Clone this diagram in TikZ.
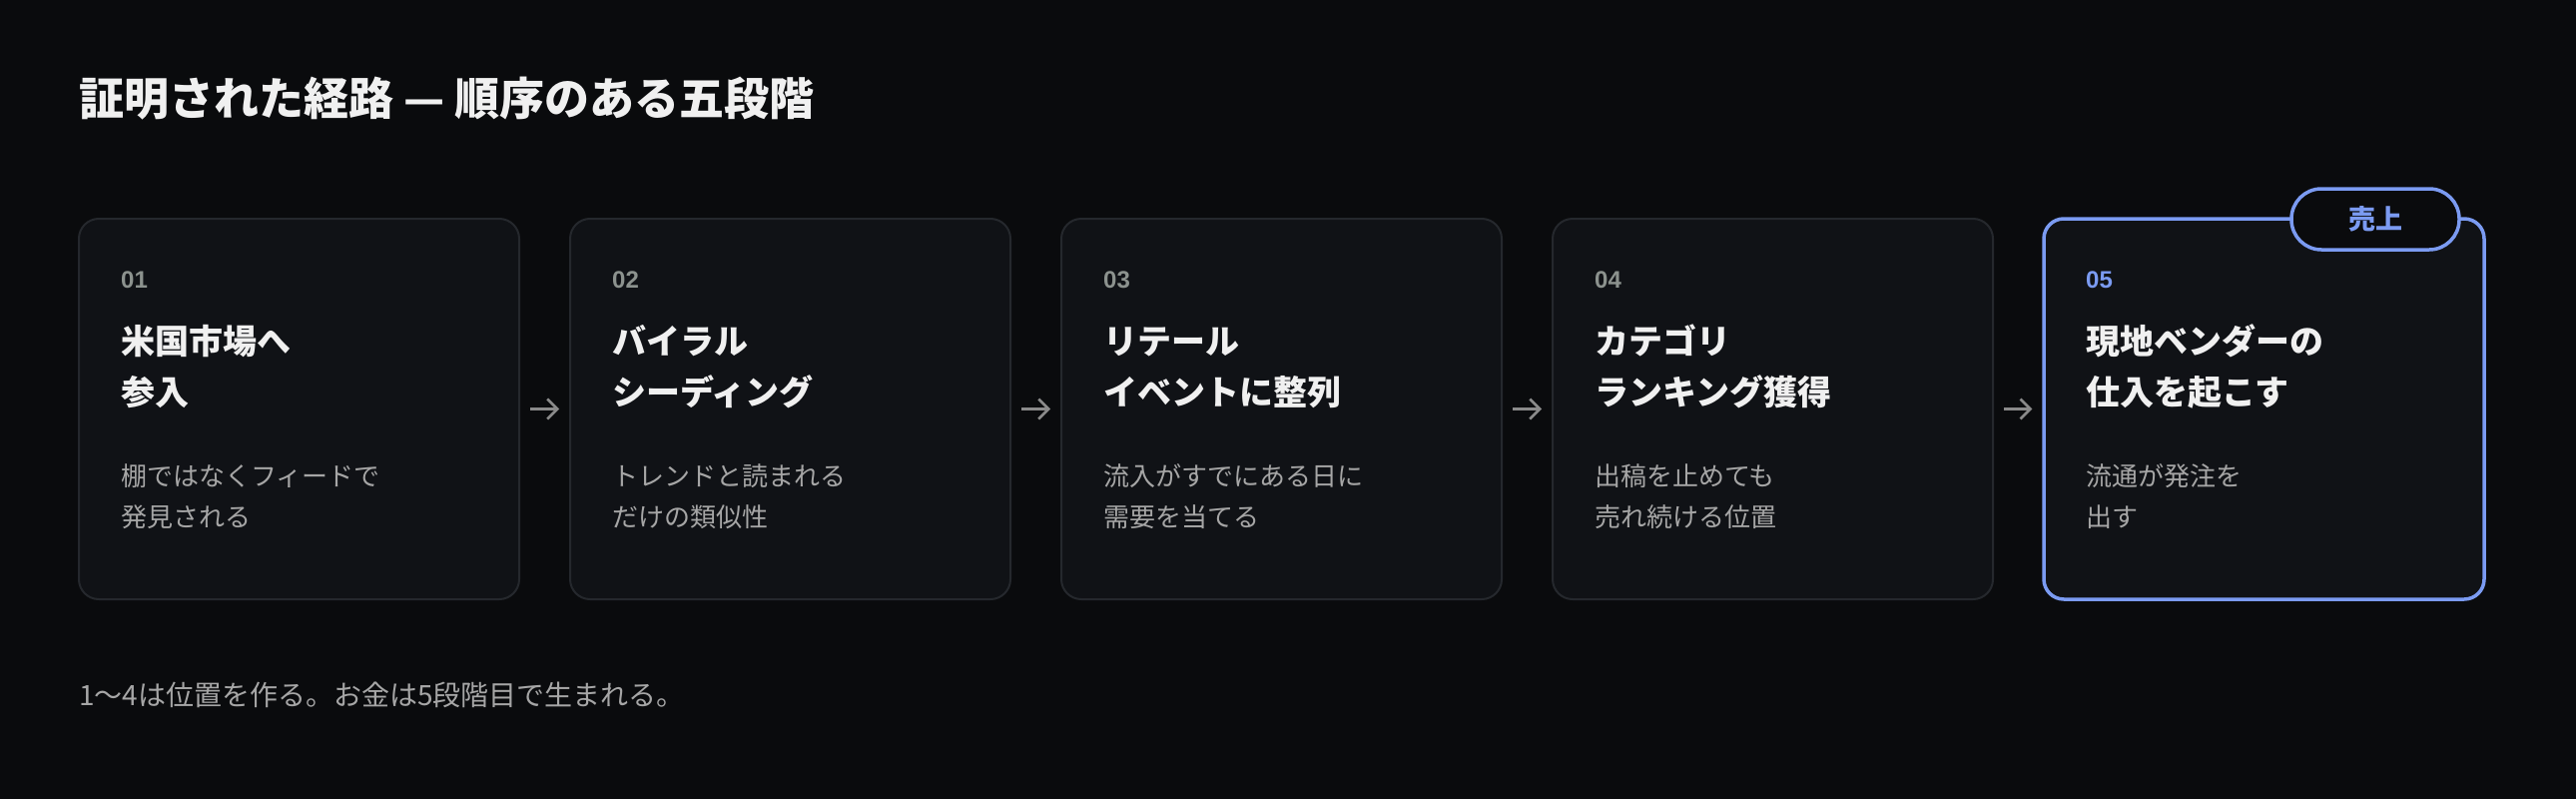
\documentclass[tikz,border=0pt]{standalone}
\usepackage{fontspec}
\setmainfont{Noto Sans CJK JP}
\newfontfamily\numfont{Liberation Sans}
\usetikzlibrary{arrows.meta}

\definecolor{bgdark}{HTML}{0A0B0D}
\definecolor{cardfill}{HTML}{101216}
\definecolor{cardline}{HTML}{25282D}
\definecolor{accent}{HTML}{7B9BF2}
\definecolor{headwhite}{HTML}{F0F0F0}
\definecolor{numgray}{HTML}{8C928E}
\definecolor{descgray}{HTML}{A6A6A6}
\definecolor{arrowgray}{HTML}{8A8A8A}

\begin{document}
\begin{tikzpicture}[x=1pt, y=-1pt,
    card/.style = {draw=cardline, fill=cardfill, line width=2pt, rounded corners=20pt,
                   minimum width=441pt, minimum height=381pt, inner sep=0pt},
    hot/.style = {draw=accent, line width=3.5pt},
    badge/.style = {draw=accent, fill=bgdark, line width=3.5pt, rounded corners=30pt,
                    minimum width=168pt, minimum height=61pt, inner sep=0pt,
                    text=accent, font=\bfseries\fontsize{27}{27}\selectfont},
    num/.style = {anchor=base west, inner sep=0pt, font=\numfont\bfseries\fontsize{24}{24}\selectfont},
    head/.style = {anchor=base west, inner sep=0pt, text=headwhite, font=\bfseries\fontsize{34}{34}\selectfont},
    desc/.style = {anchor=base west, inner sep=0pt, text=descgray, font=\fontsize{26}{26}\selectfont},
    flow/.style = {draw=arrowgray, line width=2.5pt, -{Straight Barb[length=10pt,width=20pt]},
                   shorten <=10pt, shorten >=10pt}]

    \fill[bgdark] (0,0) rectangle (2580,800);
    \useasboundingbox (0,0) rectangle (2580,800);

    \node[anchor=base west, inner sep=0pt, text=headwhite, font=\bfseries\fontsize{45}{45}\selectfont]
        (title) at (79,115) {証明された経路 — 順序のある五段階};

    % the five stages
    \foreach \i/\x in {1/299.5, 2/791.5, 3/1283.5, 4/1775.5}
        \node[card] (c\i) at (\x,409.5) {};
    \node[card, hot] (c5) at (2267.5,409.5) {};
    \node[badge] (tag) at (2379,219.5) {売上};

    \foreach \i/\n/\ta/\tb/\da/\db/\col [evaluate=\i as \xx using 121+492*(\i-1)] in {
        1/01/米国市場へ/参入/棚ではなくフィードで/発見される/numgray,
        2/02/バイラル/シーディング/トレンドと読まれる/だけの類似性/numgray,
        3/03/リテール/イベントに整列/流入がすでにある日に/需要を当てる/numgray,
        4/04/カテゴリ/ランキング獲得/出稿を止めても/売れ続ける位置/numgray,
        5/05/現地ベンダーの/仕入を起こす/流通が発注を/出す/accent} {
        \node[num, text=\col] (n\i) at (\xx,288) {\n};
        \node[head] (ha\i) at (\xx,354) {\ta};
        \node[head] (hb\i) at (\xx,405) {\tb};
        \node[desc] (da\i) at (\xx,486) {\da};
        \node[desc] (db\i) at (\xx,527) {\db};
    }

    \foreach \a/\b in {1/2, 2/3, 3/4, 4/5}
        \draw[flow] (c\a) -- (c\b);

    \node[anchor=base west, inner sep=0pt, text=descgray, font=\fontsize{28}{28}\selectfont]
        (note) at (79,706) {1〜4は位置を作る。お金は5段階目で生まれる。};
\end{tikzpicture}
\end{document}
